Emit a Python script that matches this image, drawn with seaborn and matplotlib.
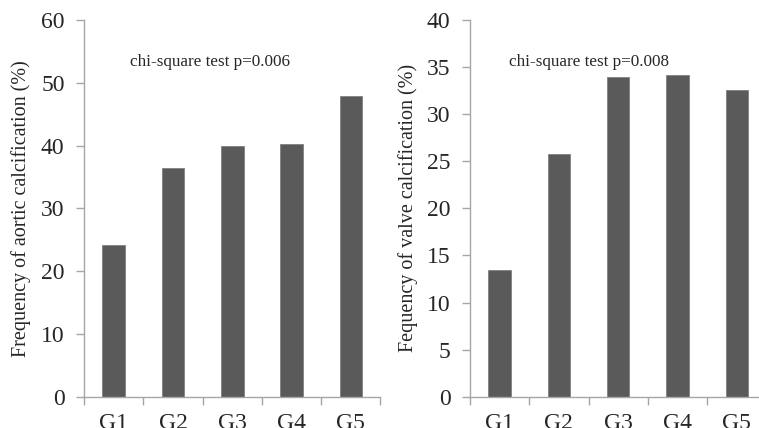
# plot.py
# Two Excel-style bar charts: frequency of aortic and valve calcification by group.
import numpy as np
import pandas as pd
import seaborn as sns
import matplotlib.pyplot as plt

# --- data ---
groups = ['G1', 'G2', 'G3', 'G4', 'G5']
aortic_pct = [24.2, 36.5, 40.0, 40.3, 47.9]
valve_pct = [13.5, 25.8, 34.0, 34.2, 32.6]
aortic_note = 'chi-square test p=0.006'
valve_note = 'chi-square test p=0.008'

df = pd.DataFrame({'group': groups, 'aortic': aortic_pct, 'valve': valve_pct})

sns.set_style("white")
plt.rcParams['font.family'] = ['Liberation Serif', 'DejaVu Serif']

fig = plt.figure(figsize=(7.59, 4.28), dpi=100)
ax_left = fig.add_axes([0.1107, 0.0731, 0.3906, 0.8801])
ax_right = fig.add_axes([0.6192, 0.0731, 0.3906, 0.8801])

axis_grey = '#a6a6a6'
bar_fill = '#5a5a5a'


def draw_panel(ax, col, ymax, ystep, ylabel, note, note_x):
    sns.barplot(data=df, x='group', y=col, color=bar_fill, width=0.38,
                edgecolor='#808080', linewidth=0.6, saturation=1, ax=ax)
    ax.set_ylim(0, ymax)
    ax.set_xlim(-0.5, 4.5)
    ax.set_yticks(np.arange(0, ymax + 1, ystep))
    # category boundaries get tick marks, labels sit in the middle
    ax.set_xticks(np.arange(-0.5, 5.0, 1.0))
    ax.set_xticklabels([])
    ax.set_xticks(range(len(groups)), minor=True)
    ax.set_xticklabels(groups, minor=True)
    ax.tick_params(axis='x', which='minor', bottom=True, length=0, pad=12, labelsize=17)
    ax.tick_params(axis='x', which='major', bottom=True, length=6, width=1,
                   color=axis_grey, direction='out')
    ax.tick_params(axis='y', left=True, length=6, width=1, color=axis_grey,
                   direction='out', pad=8, labelsize=17)
    for side in ['top', 'right']:
        ax.spines[side].set_visible(False)
    for side in ['left', 'bottom']:
        ax.spines[side].set_color(axis_grey)
        ax.spines[side].set_linewidth(1)
    ax.set_xlabel('')
    ax.set_ylabel(ylabel, fontsize=14.5)
    ax.text(note_x, 0.889, note, transform=ax.transAxes, ha='center', va='center',
            fontsize=12.3)


draw_panel(ax_left, 'aortic', 60, 10, 'Frequency of aortic calcification (%)', aortic_note, 0.425)
draw_panel(ax_right, 'valve', 40, 5, 'Fequency of valve calcification (%)', valve_note, 0.40)
ax_left.yaxis.set_label_coords(-0.179, 0.5)
ax_right.yaxis.set_label_coords(-0.175, 0.5)

plt.savefig('out.png', dpi=100)
